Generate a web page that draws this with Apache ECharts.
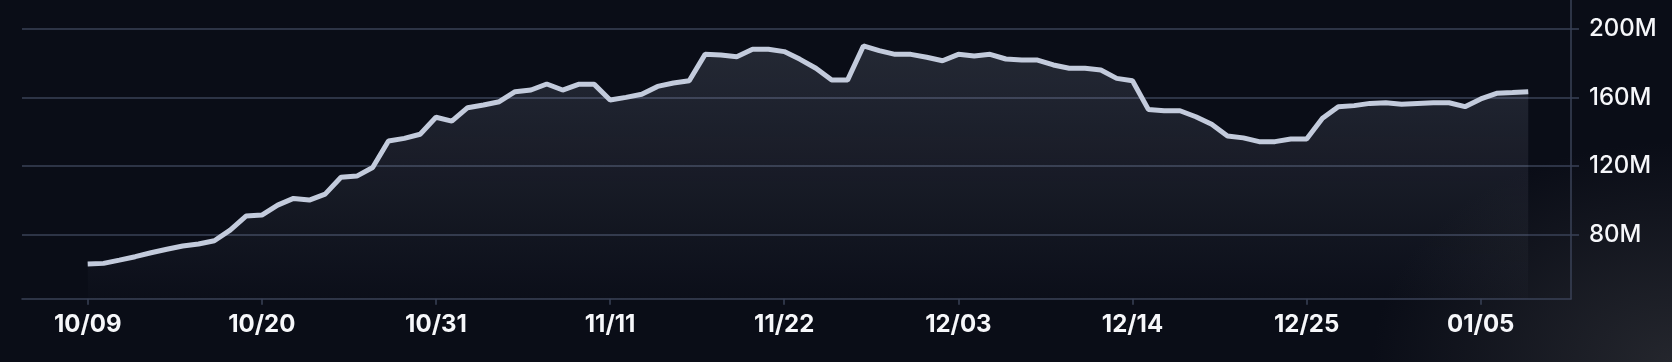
<!DOCTYPE html>
<html>
<head>
<meta charset="utf-8">
<script src="https://cdn.jsdelivr.net/npm/echarts@6/dist/echarts.min.js"></script>
<style>
  html, body { margin: 0; padding: 0; width: 1672px; height: 362px; overflow: hidden;
    background: #0a0d17; }
  #bg { position: absolute; left: 0; top: 0; width: 1672px; height: 362px;
    background: radial-gradient(ellipse 300px 220px at 100% 100%, #24262d 0%, rgba(10,13,23,0) 100%), #0a0d17; }
  #chart { position: absolute; left: 0; top: 0; width: 1672px; height: 362px; }
</style>
</head>
<body>
<div id="bg"></div>
<div id="chart"></div>
<script>
// Dates (MM/DD), one per day
const dates = [
  '10/09','10/10','10/11','10/12','10/13','10/14','10/15','10/16','10/17','10/18','10/19','10/20','10/21','10/22','10/23','10/24','10/25','10/26','10/27','10/28','10/29','10/30','10/31',
  '11/01','11/02','11/03','11/04','11/05','11/06','11/07','11/08','11/09','11/10','11/11','11/12','11/13','11/14','11/15','11/16','11/17','11/18','11/19','11/20','11/21','11/22','11/23','11/24','11/25','11/26','11/27','11/28','11/29','11/30',
  '12/01','12/02','12/03','12/04','12/05','12/06','12/07','12/08','12/09','12/10','12/11','12/12','12/13','12/14','12/15','12/16','12/17','12/18','12/19','12/20','12/21','12/22','12/23','12/24','12/25','12/26','12/27','12/28','12/29','12/30','12/31',
  '01/01','01/02','01/03','01/04','01/05','01/06','01/07','01/08'
];
// Values in millions
const valuesM = [
  62.9, 63.3, 65.2, 67.2, 69.5, 71.5, 73.4, 74.6, 76.5, 82.7, 90.9, 91.5, 97.3, 101.2, 100.2, 103.7, 113.5, 114.2, 119.2, 134.7, 136.2, 138.6, 148.5,
  146.3, 154.1, 155.7, 157.6, 163.4, 164.4, 167.9, 164.4, 167.7, 167.7, 158.6, 160.1, 161.9, 166.5, 168.5, 169.8, 185.2, 184.8, 183.8, 188.2, 188.2, 186.8, 182.3, 177.1, 170.2, 170.2, 190.1, 187.4, 185.2, 185.2,
  183.5, 181.5, 185.2, 184.2, 185.2, 182.5, 181.9, 181.9, 179.0, 177.1, 177.1, 176.1, 171.2, 169.8, 153.1, 152.3, 152.3, 148.8, 144.4, 137.6, 136.5, 134.3, 134.3, 135.8, 135.8, 147.9, 154.7, 155.3, 156.6, 157.0, 156.1,
  156.6, 157.0, 157.0, 154.7, 159.2, 162.5, 162.9, 163.4
];
// Tick positions
const xTickIdx = [0, 11, 22, 33, 44, 55, 66, 77, 88];
const yTicksM = [80, 120, 160, 200];

const gridColor = '#3a4257';
const chart = echarts.init(document.getElementById('chart'), null, { renderer: 'canvas' });
chart.setOption({
  backgroundColor: 'transparent',
  animation: false,
  grid: { left: 22, right: 101, top: 0, bottom: 63.3, containLabel: false },
  xAxis: {
    type: 'value',
    min: -4.15,
    max: 93.7,
    splitLine: { show: false },
    axisLine: { show: true, onZero: false, lineStyle: { color: gridColor, width: 1.5 } },
    axisTick: { show: true, length: 6, customValues: xTickIdx, lineStyle: { color: gridColor, width: 1.5 } },
    axisLabel: {
      customValues: xTickIdx,
      formatter: v => dates[Math.round(v)] || '',
      color: '#f6f7fa', fontFamily: 'Inter', fontWeight: 700, fontSize: 24, margin: 14
    }
  },
  yAxis: {
    type: 'value',
    position: 'right',
    min: 42.7e6,
    max: 216.9e6,
    axisLine: { show: true, onZero: false, lineStyle: { color: gridColor, width: 1.5 } },
    axisTick: { show: true, length: 8, inside: false, customValues: yTicksM.map(v => v * 1e6), lineStyle: { color: gridColor, width: 1.5 } },
    splitLine: { show: true, lineStyle: { color: gridColor, width: 1.5 } },
    axisLabel: {
      customValues: yTicksM.map(v => v * 1e6),
      formatter: v => Math.round(v / 1e6) + 'M',
      color: '#f6f7fa', fontFamily: 'Inter', fontWeight: 500, fontSize: 24, margin: 18
    }
  },
  series: [{
    type: 'line',
    data: valuesM.map((v, i) => [i, v * 1e6]),
    showSymbol: false,
    symbol: 'none',
    lineStyle: { color: '#c3cbdc', width: 5 },
    areaStyle: {
      color: new echarts.graphic.LinearGradient(0, 0, 0, 1, [
        { offset: 0, color: 'rgba(190,200,225,0.21)' },
        { offset: 1, color: 'rgba(190,200,225,0.02)' }
      ])
    }
  }]
});
</script>
</body>
</html>
